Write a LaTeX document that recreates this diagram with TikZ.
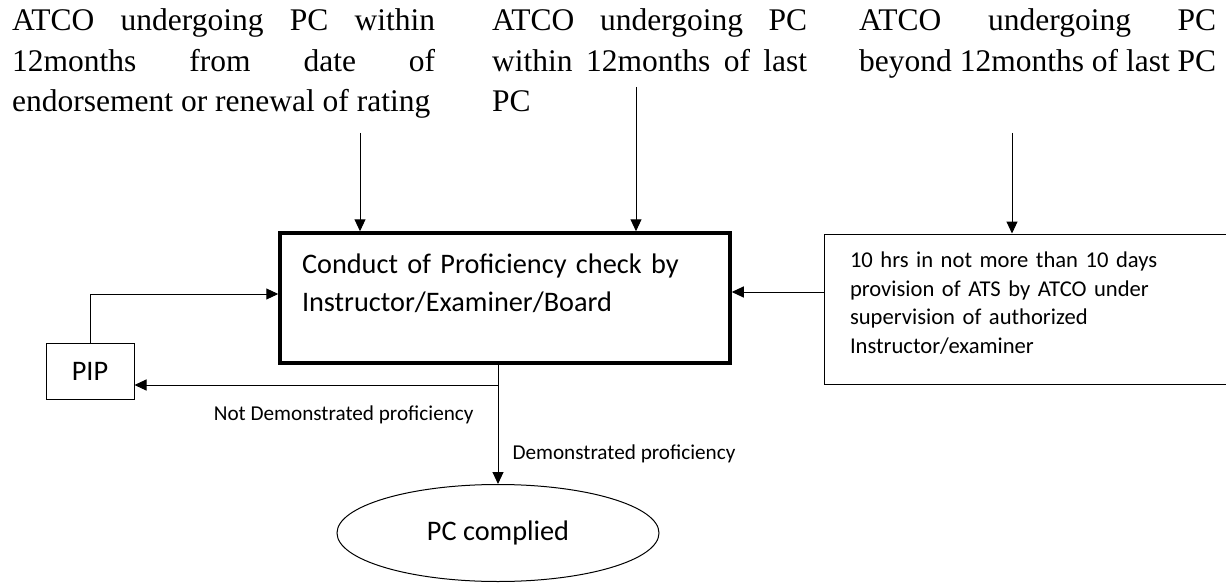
\documentclass[tikz,border=0pt]{standalone}
\usepackage{fontspec}
\setmainfont{Liberation Serif}
\newfontfamily\calibri{Carlito}
\usepackage{tikz}
\usetikzlibrary{arrows.meta}
\usetikzlibrary{shapes.geometric}
\tolerance=10000

\begin{document}
\begin{tikzpicture}[x=1pt, y=-1pt]

\tikzstyle{head}=[anchor=base west, inner sep=0pt, align=justify, font=\fontsize{31.5}{40.5}\selectfont]
\tikzstyle{box1}=[rectangle, draw, line width=3.5pt, inner sep=0pt, align=left, font=\calibri\fontsize{28.3}{38}\selectfont]
\tikzstyle{box2}=[rectangle, draw, line width=1pt, inner sep=0pt, align=left, font=\calibri\fontsize{22.6}{28.7}\selectfont]
\tikzstyle{arrow}=[-{Triangle[length=12pt,width=11pt]}, line width=1pt]
\tikzstyle{lbl}=[inner sep=0pt, font=\calibri\fontsize{21.2}{25}\selectfont]

\useasboundingbox (0,0) rectangle (1226,583);

\node (t1) [head, text width=423pt] at (12,31) {ATCO undergoing PC within\linebreak
                                              12months from date of\linebreak
                                              endorsement or renewal of rating};
\node (t2) [head, text width=315pt] at (492,31) {ATCO undergoing PC\linebreak
                                               within 12months of last\linebreak
                                               PC};
\node (t3) [head, text width=357pt] at (859,31) {ATCO undergoing PC\linebreak
                                               beyond 12months of last PC};

\node (main) [box1, minimum width=450pt, minimum height=130pt, text width=406pt] at (505,298)
      {Conduct of Proficiency check by\\Instructor/Examiner/Board\\[-8pt]\mbox{}};

\node (ext) [box2, minimum width=420pt, minimum height=150pt, text width=368pt] at (1034,309)
      {10 hrs in not more than 10 days\\
       provision of ATS by ATCO under\\
       supervision of authorized\\
       Instructor/examiner\\[-16pt]\mbox{}};

\node (pip) [box2, minimum width=88pt, minimum height=56pt, font=\calibri\fontsize{28.3}{34}\selectfont] at (90,371) {PIP};

\node (done) [ellipse, draw, line width=1pt, inner sep=0pt, minimum width=322pt, minimum height=97pt,
              font=\calibri\fontsize{28.3}{34}\selectfont] at (498,533) {PC complied};

\coordinate (a1) at (360,133);
\coordinate (a2) at (636,87);
\coordinate (a3) at (1012,133);
\coordinate (r) at (0,292);
\coordinate (l) at (0,294);
\coordinate (br) at (498,385);

\draw [arrow] (a1) -- (a1 |- main.north);
\draw [arrow] (a2) -- (a2 |- main.north);
\draw [arrow] (a3) -- (a3 |- ext.north);
\draw [arrow] (ext.west |- r) -- (main.east |- r);
\draw [arrow] (pip.north) |- (main.west |- l);
\draw [arrow] (done.north |- main.south) -- node[lbl, right=14pt, pos=0.75] {Demonstrated proficiency} (done.north);
\draw [arrow] (br) -- node[lbl, anchor=north east, pos=0.066, yshift=-20pt] {Not Demonstrated proficiency} (pip.east |- br);

\end{tikzpicture}
\end{document}
